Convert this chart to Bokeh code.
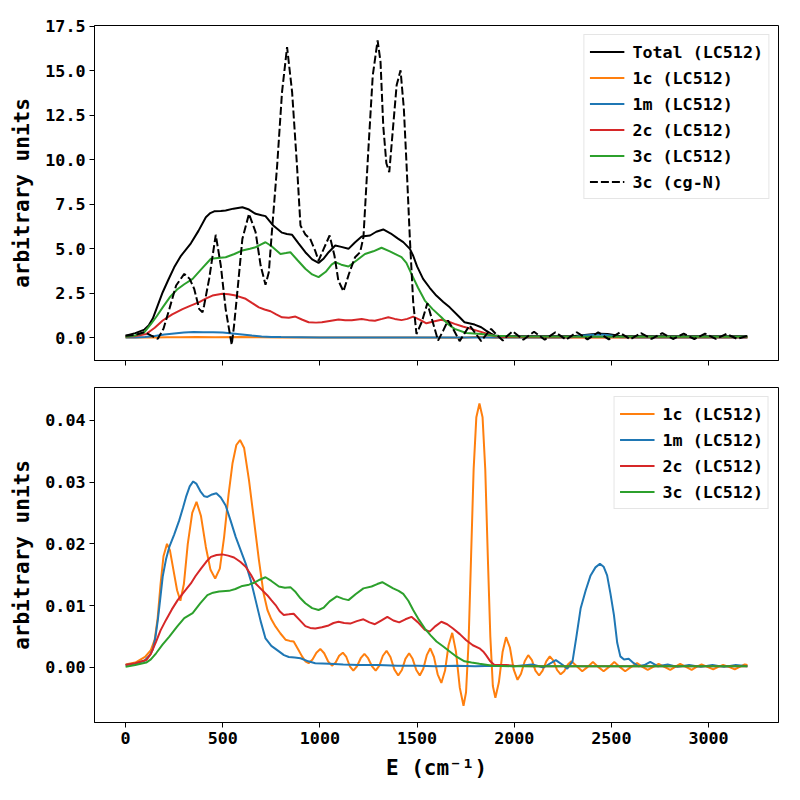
from bokeh.plotting import figure
from bokeh.layouts import column
from bokeh.models import Range1d, FixedTicker, NumeralTickFormatter
from bokeh.embed import file_html
from bokeh.resources import INLINE

FONT = "DejaVu Sans Mono"

# ---------------- data: (E in cm^-1, intensity) ----------------
X_TICKS = [0, 500, 1000, 1500, 2000, 2500, 3000]
TOP_Y_TICKS = [0.0, 2.5, 5.0, 7.5, 10.0, 12.5, 15.0, 17.5]
BOT_Y_TICKS = [0.00, 0.01, 0.02, 0.03, 0.04]

TOP_TOTAL = [(0,0.11),(50,0.25),(97,0.45),(120,0.70),(140,1.07),(165,1.80),(191,2.55),(220,3.25),(250,3.95),(285,4.60),(336,5.30),(375,6.00),(413,6.77),(436,7.00),(456,7.10),(490,7.12),(515,7.15),(555,7.25),(601,7.33),(635,7.20),(669,6.96),(700,6.88),(720,6.83),(760,6.30),(805,5.90),(830,5.82),(857,5.78),(890,5.30),(925,4.80),(960,4.40),(993,4.20),(1020,4.45),(1045,4.80),(1079,5.18),(1110,5.10),(1147,4.99),(1180,5.35),(1215,5.68),(1258,5.74),(1290,5.95),(1326,6.08),(1365,5.85),(1400,5.58),(1429,5.37),(1463,4.99),(1480,4.60),(1500,4.00),(1531,3.30),(1565,2.80),(1599,2.36),(1635,2.00),(1668,1.70),(1719,1.14),(1744,0.86),(1796,0.73),(1830,0.58),(1855,0.39),(1880,0.22),(1898,0.12),(1940,0.08),(2000,0.07),(2200,0.07),(2300,0.08),(2350,0.13),(2400,0.19),(2441,0.22),(2480,0.20),(2513,0.14),(2546,0.08),(2600,0.07),(2800,0.07),(3000,0.07),(3200,0.07)]

TOP_1C = [(0,0.0005),(150,0.004),(213,0.02),(282,0.011),(365,0.027),(461,0.014),(589,0.037),(686,0.017),(800,0.005),(1000,0.003),(1200,0.001),(1500,0.0),(1739,-0.006),(1821,0.043),(1903,-0.005),(2000,0.0),(3200,0.0004)]

TOP_1M = [(0,0.0),(50,0.01),(100,0.03),(150,0.09),(200,0.17),(250,0.23),(300,0.28),(350,0.31),(400,0.30),(450,0.30),(500,0.28),(550,0.23),(600,0.17),(650,0.11),(700,0.06),(750,0.035),(800,0.026),(900,0.015),(1000,0.007),(1200,0.004),(1500,0.003),(1800,0.003),(2100,0.005),(2214,0.012),(2273,0.0),(2320,0.05),(2342,0.096),(2393,0.149),(2441,0.168),(2478,0.149),(2513,0.085),(2546,0.018),(2589,0.014),(2640,0.002),(2700,0.009),(2800,0.004),(3000,0.003),(3200,0.002)]

TOP_2C = [(0,0.05),(50,0.08),(106,0.20),(150,0.55),(191,0.96),(240,1.30),(293,1.60),(335,1.80),(379,1.99),(415,2.20),(447,2.36),(498,2.46),(530,2.44),(567,2.36),(618,2.18),(650,1.95),(686,1.70),(715,1.58),(746,1.48),(775,1.30),(805,1.14),(840,1.12),(874,1.18),(910,1.00),(942,0.86),(980,0.84),(1010,0.86),(1050,0.93),(1096,1.01),(1130,0.98),(1164,0.98),(1215,1.04),(1250,0.98),(1283,0.95),(1320,1.05),(1352,1.14),(1385,1.05),(1420,0.98),(1450,1.05),(1480,1.18),(1515,1.00),(1548,0.80),(1585,0.90),(1625,1.00),(1660,0.90),(1693,0.77),(1735,0.62),(1778,0.49),(1820,0.35),(1864,0.20),(1900,0.08),(1950,0.03),(2200,0.02),(2700,0.02),(3200,0.02)]

TOP_3C = [(0,0.05),(50,0.12),(97,0.30),(130,0.75),(160,1.20),(191,1.70),(230,2.30),(265,2.70),(302,3.00),(345,3.30),(390,3.85),(439,4.43),(475,4.48),(515,4.52),(560,4.70),(601,4.90),(640,5.00),(669,5.08),(700,5.25),(720,5.36),(750,5.15),(797,4.70),(825,4.75),(848,4.80),(885,4.35),(925,3.87),(960,3.55),(993,3.40),(1030,3.70),(1060,4.10),(1079,4.24),(1110,4.10),(1147,4.00),(1190,4.35),(1232,4.70),(1275,4.85),(1317,5.05),(1360,4.85),(1420,4.52),(1445,4.20),(1471,3.58),(1505,2.80),(1540,2.08),(1580,1.60),(1625,1.14),(1660,0.75),(1693,0.49),(1753,0.26),(1830,0.20),(1900,0.10),(2000,0.06),(2400,0.05),(2800,0.05),(3200,0.05)]

TOP_3C_CGN = [(0,0.10),(50,0.15),(97,0.30),(130,0.12),(166,-0.07),(195,0.50),(225,1.60),(260,2.93),(302,3.58),(330,3.30),(353,2.74),(379,1.60),(396,1.42),(404,1.80),(430,3.30),(464,5.78),(490,4.05),(515,1.60),(546,-0.41),(558,0.66),(575,2.55),(601,5.55),(635,6.96),(669,5.93),(695,4.05),(720,2.97),(737,3.67),(754,6.10),(780,9.68),(805,13.80),(831,16.34),(857,13.80),(882,9.68),(900,6.30),(925,5.80),(950,5.55),(975,4.90),(993,4.33),(1020,5.00),(1050,5.74),(1075,4.60),(1095,3.20),(1121,2.60),(1150,3.60),(1181,4.52),(1207,4.80),(1224,5.64),(1249,10.50),(1272,14.74),(1297,16.71),(1312,15.50),(1326,11.90),(1342,9.80),(1357,9.30),(1377,11.90),(1395,14.20),(1415,15.03),(1432,12.87),(1446,9.70),(1463,5.55),(1480,2.00),(1497,0.20),(1525,0.90),(1553,1.93),(1580,0.90),(1608,-0.17),(1635,0.40),(1659,0.96),(1690,0.40),(1719,-0.20),(1745,0.25),(1770,0.68),(1800,0.25),(1830,-0.20),(1855,0.15),(1881,0.49),(1910,0.15),(1941,-0.17),(1965,0.10),(1992,0.35),(2047,-0.12),(2102,0.33),(2157,-0.12),(2212,0.30),(2267,-0.12),(2322,0.30),(2377,-0.10),(2432,0.30),(2487,-0.10),(2542,0.28),(2597,-0.10),(2652,0.25),(2707,-0.08),(2762,0.25),(2817,-0.08),(2872,0.22),(2927,-0.08),(2982,0.22),(3037,-0.07),(3092,0.20),(3147,-0.07),(3200,0.10)]

BOT_1C = [(0,0.0005),(50,0.0008),(100,0.0017),(130,0.0028),(150,0.0045),(165,0.0080),(180,0.0135),(195,0.0180),(213,0.0200),(228,0.0190),(245,0.0160),(265,0.0125),(282,0.0108),(300,0.0135),(320,0.0200),(343,0.0250),(365,0.0268),(388,0.0245),(413,0.0195),(437,0.0158),(461,0.0144),(485,0.0160),(507,0.0211),(530,0.0280),(550,0.0330),(570,0.0360),(589,0.0368),(610,0.0355),(635,0.0303),(660,0.0240),(686,0.0174),(710,0.0120),(730,0.0093),(750,0.0078),(772,0.0066),(797,0.0055),(823,0.0045),(845,0.0043),(865,0.0042),(887,0.0030),(908,0.0018),(925,0.0010),(942,0.0007),(962,0.0013),(982,0.0024),(1002,0.0030),(1022,0.0023),(1042,0.0010),(1062,0.0003),(1081,0.0008),(1099,0.0019),(1118,0.0024),(1136,0.0017),(1154,0.0002),(1172,-0.0005),(1191,0.0002),(1210,0.0015),(1229,0.0022),(1248,0.0015),(1268,0.0002),(1287,-0.0005),(1306,0.0003),(1324,0.0019),(1343,0.0027),(1363,0.0017),(1383,-0.0003),(1403,-0.0013),(1422,-0.0004),(1440,0.0014),(1459,0.0023),(1477,0.0014),(1496,-0.0004),(1514,-0.0013),(1532,-0.0002),(1550,0.0020),(1568,0.0031),(1587,0.0017),(1606,-0.0011),(1625,-0.0025),(1644,-0.0005),(1662,0.0036),(1681,0.0056),(1700,0.0026),(1720,-0.0033),(1739,-0.0062),(1752,-0.0040),(1765,0.0040),(1778,0.0180),(1791,0.0320),(1805,0.0405),(1821,0.0427),(1837,0.0405),(1851,0.0320),(1864,0.0180),(1877,0.0050),(1890,-0.0030),(1903,-0.0049),(1921,-0.0024),(1940,0.0025),(1958,0.0049),(1978,0.0032),(1997,-0.0003),(2017,-0.0020),(2035,-0.0010),(2054,0.0010),(2072,0.0020),(2091,0.0012),(2109,-0.0005),(2128,-0.0013),(2146,-0.0005),(2165,0.0010),(2183,0.0018),(2202,0.0011),(2220,-0.0004),(2239,-0.0011),(2257,-0.0006),(2276,0.0005),(2294,0.0010),(2322,0.0002),(2350,-0.0006),(2378,0.0001),(2405,0.0009),(2432,0.0001),(2460,-0.0006),(2488,0.0001),(2515,0.0009),(2543,0.0001),(2571,-0.0006),(2602,0.0001),(2632,0.0007),(2660,0.0001),(2687,-0.0004),(2715,0.0001),(2743,0.0006),(2773,0.0001),(2803,-0.0004),(2828,0.0001),(2854,0.0006),(2884,0.0001),(2913,-0.0004),(2938,0.0001),(2964,0.0005),(2994,0.0001),(3024,-0.0003),(3050,0.0001),(3075,0.0004),(3105,0.0001),(3135,-0.0003),(3160,0.0001),(3186,0.0005),(3200,0.0004)]

BOT_1M = [(0,0.0004),(50,0.0006),(97,0.0011),(125,0.0020),(140,0.0029),(153,0.0048),(166,0.0077),(178,0.0110),(191,0.0147),(208,0.0175),(225,0.0195),(250,0.0215),(276,0.0238),(295,0.0258),(311,0.0276),(330,0.0293),(348,0.0301),(365,0.0297),(385,0.0285),(405,0.0277),(421,0.0276),(445,0.0280),(467,0.0282),(490,0.0275),(515,0.0262),(540,0.0238),(567,0.0211),(592,0.0190),(618,0.0168),(645,0.0140),(669,0.0109),(695,0.0075),(720,0.0047),(750,0.0035),(789,0.0026),(815,0.0020),(840,0.0017),(870,0.0016),(900,0.0015),(940,0.0010),(976,0.0007),(1050,0.0006),(1120,0.0005),(1200,0.0004),(1300,0.0004),(1400,0.0003),(1500,0.0003),(1600,0.0002),(1700,0.0003),(1800,0.0002),(1900,0.0003),(2000,0.0002),(2094,0.0005),(2150,0.0000),(2214,0.0012),(2250,0.0004),(2273,-0.0002),(2300,0.0010),(2320,0.0050),(2342,0.0096),(2368,0.0125),(2393,0.0149),(2418,0.0162),(2441,0.0168),(2460,0.0163),(2478,0.0149),(2495,0.0120),(2513,0.0085),(2530,0.0040),(2546,0.0018),(2565,0.0013),(2589,0.0014),(2615,0.0007),(2640,0.0002),(2670,0.0004),(2700,0.0009),(2740,0.0002),(2790,0.0005),(2840,0.0001),(2900,0.0004),(2960,0.0001),(3020,0.0004),(3080,0.0001),(3140,0.0004),(3200,0.0002)]

BOT_2C = [(0,0.0004),(50,0.0007),(106,0.0012),(130,0.0022),(157,0.0042),(180,0.0060),(208,0.0077),(238,0.0094),(268,0.0109),(300,0.0122),(336,0.0136),(360,0.0148),(388,0.0160),(415,0.0171),(439,0.0179),(468,0.0182),(498,0.0183),(528,0.0181),(558,0.0178),(590,0.0171),(618,0.0163),(645,0.0150),(669,0.0136),(700,0.0126),(729,0.0117),(750,0.0109),(772,0.0101),(793,0.0091),(814,0.0085),(840,0.0086),(865,0.0087),(895,0.0077),(925,0.0067),(950,0.0064),(976,0.0063),(1010,0.0065),(1045,0.0068),(1070,0.0072),(1096,0.0074),(1125,0.0072),(1156,0.0071),(1190,0.0075),(1224,0.0078),(1255,0.0073),(1283,0.0070),(1315,0.0076),(1347,0.0082),(1378,0.0076),(1408,0.0073),(1440,0.0078),(1471,0.0082),(1505,0.0073),(1540,0.0061),(1565,0.0058),(1595,0.0067),(1625,0.0074),(1655,0.0070),(1685,0.0063),(1720,0.0054),(1753,0.0044),(1787,0.0036),(1821,0.0031),(1840,0.0026),(1855,0.0020),(1877,0.0010),(1898,0.0004),(1958,0.0004),(2000,0.0003),(2100,0.0002),(2300,0.0002),(2600,0.0002),(2900,0.0002),(3200,0.0002)]

BOT_3C = [(0,0.0001),(50,0.0004),(106,0.0008),(130,0.0013),(157,0.0023),(190,0.0037),(225,0.0050),(265,0.0066),(302,0.0080),(345,0.0088),(385,0.0104),(421,0.0117),(450,0.0121),(481,0.0123),(532,0.0124),(565,0.0127),(601,0.0132),(635,0.0134),(661,0.0137),(690,0.0142),(720,0.0146),(750,0.0140),(789,0.0131),(820,0.0129),(848,0.0130),(875,0.0122),(900,0.0112),(925,0.0104),(960,0.0096),(993,0.0093),(1020,0.0097),(1050,0.0107),(1087,0.0115),(1120,0.0111),(1147,0.0109),(1185,0.0119),(1224,0.0128),(1266,0.0131),(1295,0.0135),(1321,0.0138),(1350,0.0133),(1377,0.0128),(1405,0.0124),(1429,0.0119),(1455,0.0108),(1480,0.0093),(1510,0.0077),(1540,0.0063),(1570,0.0052),(1600,0.0042),(1635,0.0034),(1668,0.0026),(1705,0.0017),(1744,0.0010),(1780,0.0008),(1821,0.0006),(1889,0.0003),(2000,0.0002),(2300,0.0002),(2600,0.0002),(2900,0.0002),(3200,0.0002)]

ORANGE, BLUE, RED, GREEN = "#ff7f0e", "#1f77b4", "#d62728", "#2ca02c"


def xy(pairs):
    return [a for a, _ in pairs], [b for _, b in pairs]


x_range = Range1d(-160, 3360)


def make_fig(y_range, top_border, bottom_border):
    p = figure(frame_width=684, frame_height=335, x_range=x_range, y_range=y_range,
               output_backend="svg", toolbar_location=None,
               min_border_left=94, min_border_right=10,
               min_border_top=top_border, min_border_bottom=bottom_border,
               background_fill_color="white", border_fill_color="white")
    p.xgrid.visible = False
    p.ygrid.visible = False
    p.outline_line_color = "black"
    p.outline_line_width = 1
    p.outline_line_alpha = 1
    for ax in (p.xaxis[0], p.yaxis[0]):
        ax.axis_line_color = "black"
        ax.major_tick_line_color = "black"
        ax.major_tick_in = 0
        ax.major_tick_out = 5
        ax.minor_tick_line_color = None
        ax.major_label_text_font = FONT
        ax.major_label_text_font_style = "bold"
        ax.major_label_text_font_size = "16.7px"
        ax.major_label_text_color = "black"
        ax.major_label_standoff = 4
        ax.axis_label_text_font = FONT
        ax.axis_label_text_font_style = "bold"
        ax.axis_label_text_font_size = "21px"
        ax.axis_label_text_color = "black"
    p.xaxis[0].ticker = FixedTicker(ticks=X_TICKS)
    p.yaxis[0].axis_label = "arbitrary units"
    p.yaxis[0].axis_label_standoff = 8
    return p


def style_legend(p):
    lg = p.legend[0]
    lg.location = "top_right"
    lg.margin = 9
    lg.padding = 5
    lg.spacing = 3
    lg.label_height = 23
    lg.glyph_height = 23
    lg.glyph_width = 35
    lg.label_standoff = 8
    lg.label_text_font = FONT
    lg.label_text_font_style = "bold"
    lg.label_text_font_size = "16.7px"
    lg.label_text_color = "black"
    lg.border_line_color = "#cccccc"
    lg.border_line_width = 1
    lg.background_fill_alpha = 0.8


# ---------------- top panel ----------------
p1 = make_fig(Range1d(-1.29, 17.55), 25, 12)
p1.yaxis[0].ticker = FixedTicker(ticks=TOP_Y_TICKS)
p1.yaxis[0].formatter = NumeralTickFormatter(format="0.0")
p1.xaxis[0].major_label_overrides = {t: "" for t in X_TICKS}
p1.xaxis[0].major_label_standoff = 0

for pairs, color, label, dash in [
    (TOP_TOTAL, "black", "Total (LC512)", "solid"),
    (TOP_1C, ORANGE, "1c (LC512)", "solid"),
    (TOP_1M, BLUE, "1m (LC512)", "solid"),
    (TOP_2C, RED, "2c (LC512)", "solid"),
    (TOP_3C, GREEN, "3c (LC512)", "solid"),
    (TOP_3C_CGN, "black", "3c (cg-N)", "8 3"),
]:
    xs, ys = xy(pairs)
    p1.line(xs, ys, line_color=color, line_width=2, line_dash=dash, legend_label=label)
style_legend(p1)

# ---------------- bottom panel ----------------
p2 = make_fig(Range1d(-0.0089, 0.0453), 15, 68)
p2.yaxis[0].ticker = FixedTicker(ticks=BOT_Y_TICKS)
p2.yaxis[0].formatter = NumeralTickFormatter(format="0.00")
p2.xaxis[0].axis_label = "E (cm\u207b\u00b9)"
p2.xaxis[0].axis_label_standoff = 9

for pairs, color, label in [
    (BOT_1C, ORANGE, "1c (LC512)"),
    (BOT_1M, BLUE, "1m (LC512)"),
    (BOT_2C, RED, "2c (LC512)"),
    (BOT_3C, GREEN, "3c (LC512)"),
]:
    xs, ys = xy(pairs)
    p2.line(xs, ys, line_color=color, line_width=2, legend_label=label)
style_legend(p2)

layout = column(p1, p2, spacing=0)
open("out.html", "w").write(file_html(layout, INLINE))
